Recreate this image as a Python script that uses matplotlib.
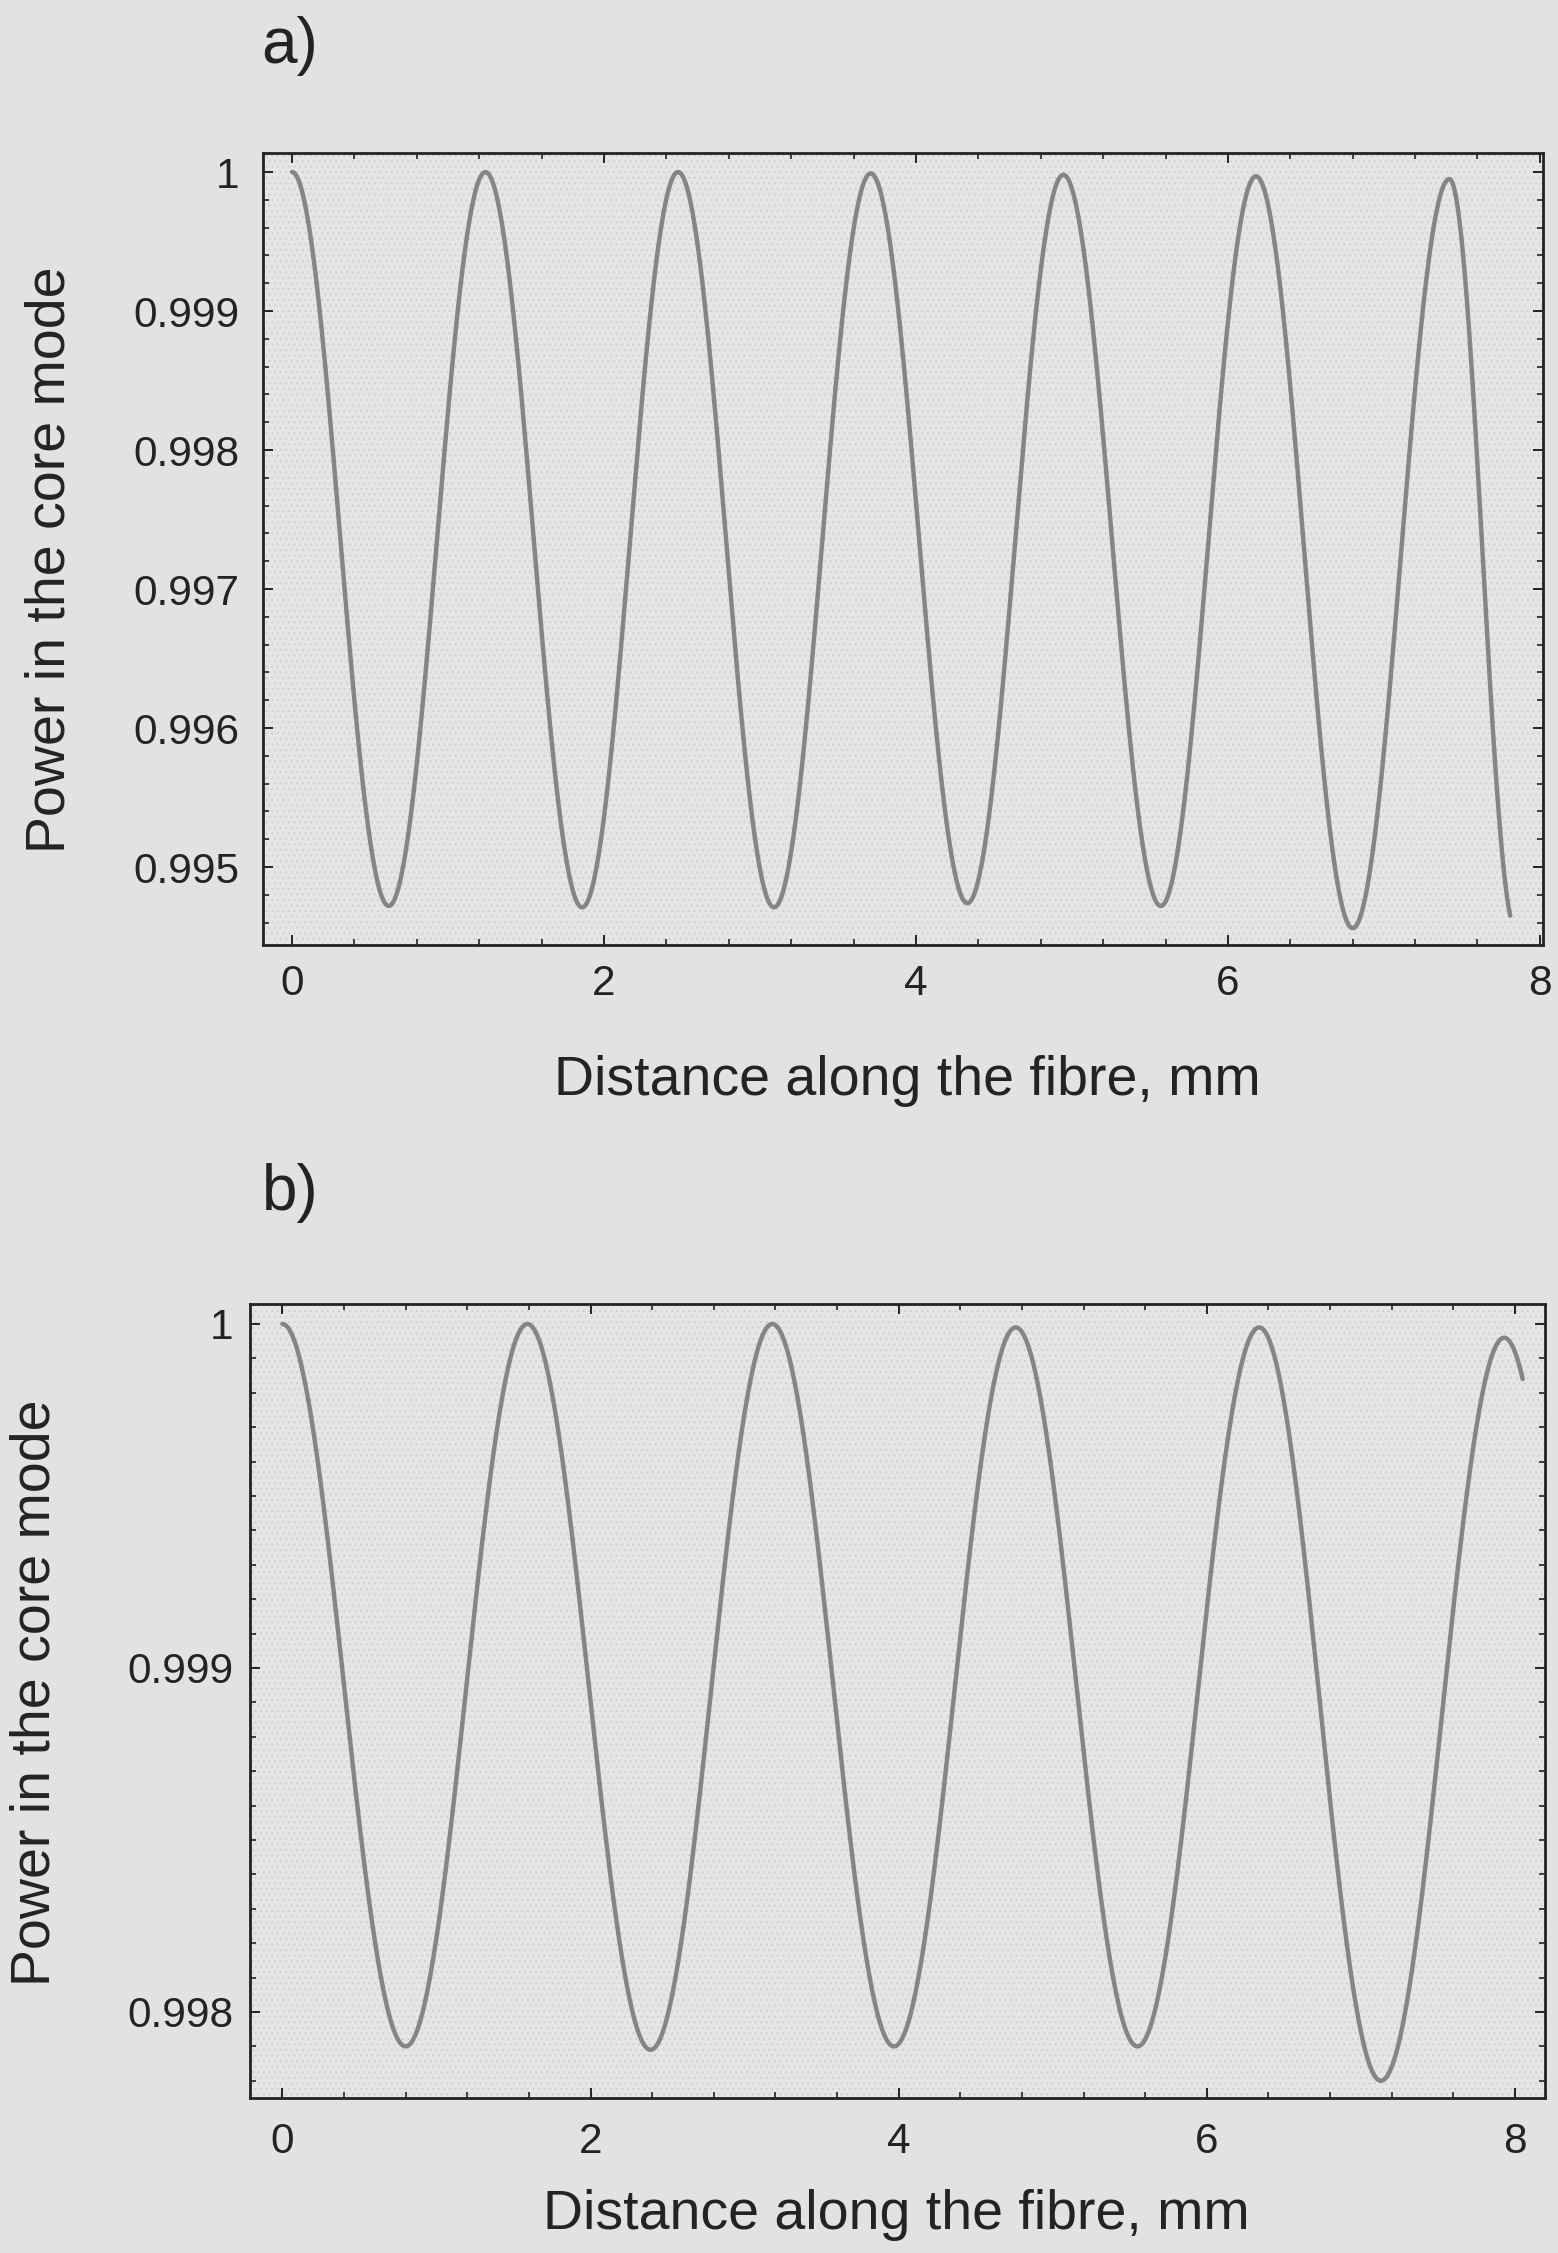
import numpy as np
import matplotlib
matplotlib.use("Agg")
import matplotlib.pyplot as plt
from matplotlib import ticker
from matplotlib.patches import Rectangle

plt.rcParams['font.family'] = ['Liberation Sans', 'DejaVu Sans']
plt.rcParams['hatch.linewidth'] = 0.5

# ---- data: turning points of the core-mode power oscillation ----
# panel a)
a_peak_x = [0.0, 1.24, 2.475, 3.71, 4.945, 6.18, 7.42]
a_peak_y = [1.0, 1.0, 1.0, 0.99999, 0.99998, 0.99997, 0.99995]
a_trough_x = [0.62, 1.86, 3.09, 4.33, 5.57, 6.80]
a_trough_y = [0.99472, 0.99471, 0.99471, 0.99474, 0.99472, 0.99456]
a_end = (7.81, 0.99465)

# panel b)
b_peak_x = [0.0, 1.59, 3.18, 4.76, 6.34, 7.93]
b_peak_y = [1.0, 1.0, 1.0, 0.99999, 0.99999, 0.99996]
b_trough_x = [0.80, 2.39, 3.97, 5.55, 7.13]
b_trough_y = [0.99790, 0.99789, 0.99790, 0.99790, 0.99780]
b_end = (8.05, 0.99984)

x_ticks = [0, 2, 4, 6, 8]
a_y_ticks = [0.995, 0.996, 0.997, 0.998, 0.999, 1.0]
b_y_ticks = [0.998, 0.999, 1.0]

xlabel = "Distance along the fibre, mm"
ylabel = "Power in the core mode"

PAGE = '#e2e2e2'
FACE = '#e5e5e5'
INK = '#232323'
CURVE = '#858585'


def swing_curve(px, py, tx, ty, end, n=80):
    """Join alternating maxima/minima with half-cosine swings."""
    pts = sorted(list(zip(px, py)) + list(zip(tx, ty)))
    xs, ys = [], []
    for (x0, y0), (x1, y1) in zip(pts[:-1], pts[1:]):
        t = np.linspace(0.0, 1.0, n)
        xs.append(x0 + (x1 - x0) * t)
        ys.append(y0 + (y1 - y0) * (1 - np.cos(np.pi * t)) / 2)
    # final, unfinished swing from the last extremum to the end point
    x0, y0 = pts[-1]
    level = pts[-2][1]
    frac = (end[1] - y0) / (level - y0)
    phase = np.arccos(1 - 2 * frac)
    t = np.linspace(0.0, phase, n)
    xs.append(x0 + (end[0] - x0) * t / phase)
    ys.append(y0 + (level - y0) * (1 - np.cos(t)) / 2)
    return np.concatenate(xs), np.concatenate(ys)


def style_axes(ax, xlim, ylim, yticks, yminor, ypad, xpad):
    ax.set_facecolor(FACE)
    ax.add_patch(Rectangle((0, 0), 1, 1, transform=ax.transAxes,
                           facecolor='none', edgecolor='#c9c9c9', lw=0,
                           hatch='...', zorder=0.2))
    ax.set_xlim(*xlim)
    ax.set_ylim(*ylim)
    ax.set_xticks(x_ticks)
    ax.xaxis.set_minor_locator(ticker.MultipleLocator(0.4))
    ax.set_yticks(yticks)
    ax.yaxis.set_minor_locator(ticker.MultipleLocator(yminor))
    ax.yaxis.set_major_formatter(ticker.FormatStrFormatter('%g'))
    ax.xaxis.set_major_formatter(ticker.FormatStrFormatter('%g'))
    ax.tick_params(which='both', direction='in', top=True, right=True,
                   color=INK, labelcolor=INK, labelsize=30.5)
    ax.tick_params(which='major', length=7.5, width=1.4)
    ax.tick_params(which='minor', length=4, width=1.2)
    ax.tick_params(axis='y', which='major', pad=ypad)
    ax.tick_params(axis='x', which='major', pad=xpad)
    for s in ax.spines.values():
        s.set_color(INK)
        s.set_linewidth(2.0)


fig = plt.figure(figsize=(15.58, 22.53), dpi=100, facecolor=PAGE)
W, H = 1558.0, 2253.0

# panel a
ax_a = fig.add_axes([263 / W, 1 - 945 / H, 1280 / W, 792 / H])
style_axes(ax_a, (-0.186, 8.02), (0.994439, 1.000137), a_y_ticks, 0.0002,
           ypad=17, xpad=14)
xa, ya = swing_curve(a_peak_x, a_peak_y, a_trough_x, a_trough_y, a_end)
ax_a.plot(xa, ya, color=CURVE, lw=3.2, solid_capstyle='round', zorder=3)
ax_a.set_xlabel(xlabel, fontsize=40, color=INK, va='center')
ax_a.xaxis.set_label_coords(0.503, -0.172)
ax_a.set_ylabel(ylabel, fontsize=40, color=INK, va='center')
ax_a.yaxis.set_label_coords(-0.166, 0.487)
fig.text(290 / W, 1 - 46 / H, "a)", fontsize=46, color=INK,
         ha='center', va='center')

# panel b
ax_b = fig.add_axes([250 / W, 1 - 2098 / H, 1295 / W, 794 / H])
style_axes(ax_b, (-0.21, 8.195), (0.99775, 1.000058), b_y_ticks, 0.0001,
           ypad=12, xpad=17)
xb, yb = swing_curve(b_peak_x, b_peak_y, b_trough_x, b_trough_y, b_end)
ax_b.plot(xb, yb, color=CURVE, lw=3.2, solid_capstyle='round', zorder=3)
ax_b.set_xlabel(xlabel, fontsize=40, color=INK, va='center')
ax_b.xaxis.set_label_coords(0.499, -0.147)
ax_b.set_ylabel(ylabel, fontsize=40, color=INK, va='center')
ax_b.yaxis.set_label_coords(-0.166, 0.511)
fig.text(290 / W, 1 - 1193 / H, "b)", fontsize=46, color=INK,
         ha='center', va='center')

fig.savefig("out.png", dpi=100, facecolor=PAGE)
